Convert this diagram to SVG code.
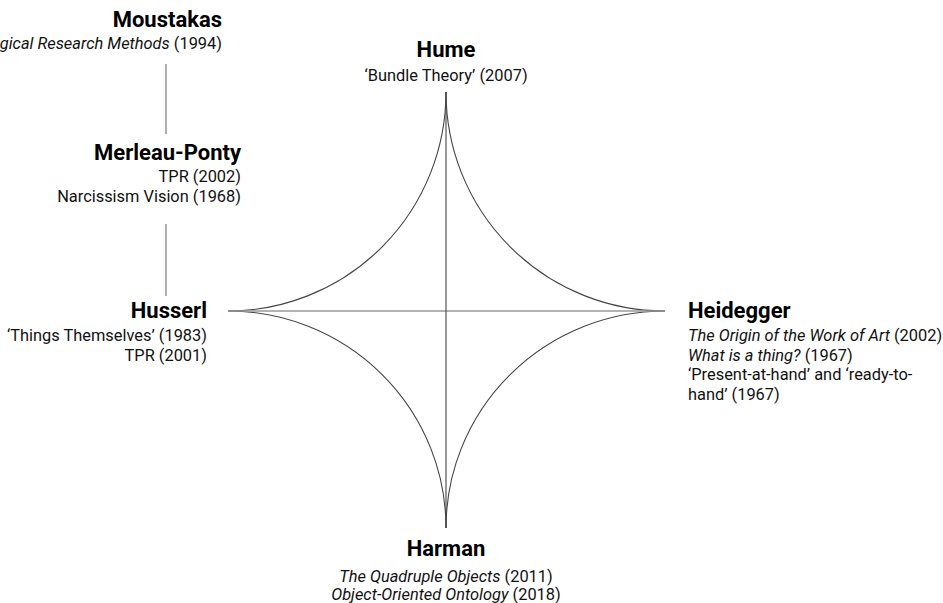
<svg xmlns="http://www.w3.org/2000/svg" width="943" height="603" viewBox="0 0 943 603">
  <style>
    text { font-family: Roboto, "Liberation Sans", sans-serif; fill: #111; }
    .name { font-size: 22px; font-weight: bold; fill: #000; }
    .ref { font-size: 16.4px; }
    .ttl { font-style: italic; }
    .arc { fill: none; stroke: #444; stroke-width: 1.1; }
    .axis-h { stroke: #999; stroke-width: 1.6; }
    .axis-v { stroke: #444; stroke-width: 1.1; }
    .link { stroke: #777; stroke-width: 1.2; }
  </style>
  <rect width="943" height="603" fill="#fff"/>

  <!-- astroid-like figure: four concave quarter arcs and two axes -->
  <g id="connectors">
    <path class="arc" d="M446,92 A218,219 0 0 1 228,311"/>
    <path class="arc" d="M446,92 A219,219 0 0 0 665,311"/>
    <path class="arc" d="M228,311 A218,217 0 0 1 446,528"/>
    <path class="arc" d="M665,311 A219,217 0 0 0 446,528"/>
    <line class="axis-h" x1="228" y1="311" x2="665" y2="311"/>
    <line class="axis-v" x1="446" y1="92" x2="446" y2="528"/>
    <line class="link" x1="166" y1="64" x2="166" y2="134"/>
    <line class="link" x1="166" y1="224" x2="166" y2="296"/>
  </g>

  <g id="moustakas" text-anchor="end">
    <text class="name" x="222" y="27">Moustakas</text>
    <text class="ref" x="222" y="49"><tspan class="ttl">Phenomenological Research Methods</tspan> (1994)</text>
  </g>

  <g id="merleau-ponty" text-anchor="end">
    <text class="name" x="241" y="160">Merleau-Ponty</text>
    <text class="ref" x="241" y="182">TPR (2002)</text>
    <text class="ref" x="241" y="202">Narcissism Vision (1968)</text>
  </g>

  <g id="husserl" text-anchor="end">
    <text class="name" x="207" y="318">Husserl</text>
    <text class="ref" x="207" y="341">‘Things Themselves’ (1983)</text>
    <text class="ref" x="207" y="361">TPR (2001)</text>
  </g>

  <g id="hume" text-anchor="middle">
    <text class="name" x="446" y="57">Hume</text>
    <text class="ref" x="446" y="81">‘Bundle Theory’ (2007)</text>
  </g>

  <g id="heidegger">
    <text class="name" x="688" y="318">Heidegger</text>
    <text class="ref" x="688" y="341"><tspan class="ttl">The Origin of the Work of Art</tspan> (2002)</text>
    <text class="ref" x="688" y="361"><tspan class="ttl">What is a thing?</tspan> (1967)</text>
    <text class="ref" x="688" y="380">‘Present-at-hand’ and ‘ready-to-</text>
    <text class="ref" x="688" y="400">hand’ (1967)</text>
  </g>

  <g id="harman" text-anchor="middle">
    <text class="name" x="446" y="556">Harman</text>
    <text class="ref" x="446" y="582"><tspan class="ttl">The Quadruple Objects</tspan> (2011)</text>
    <text class="ref" x="446" y="600"><tspan class="ttl">Object-Oriented Ontology</tspan> (2018)</text>
  </g>
</svg>
